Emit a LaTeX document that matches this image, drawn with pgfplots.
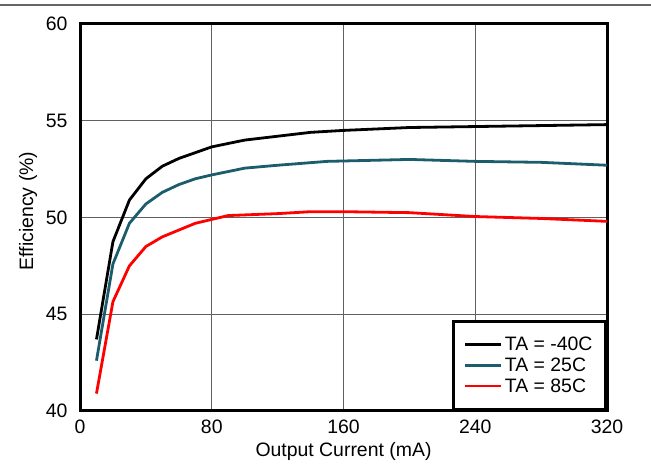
\documentclass[border=0pt]{standalone}
\usepackage{pgfplots}
\pgfplotsset{compat=1.18}
\usepackage{fontspec}
\setmainfont{Liberation Sans}
\definecolor{tealc}{HTML}{1B5D6D}
\begin{document}
\begin{tikzpicture}[x=1bp,y=1bp]
\path[use as bounding box] (0,0) rectangle (651,473);
\draw[gray!80!black, line width=1.2bp] (0,468) -- (651,468);
\begin{axis}[
  at={(80bp,62bp)}, anchor=south west,
  scale only axis, width=527bp, height=387bp,
  xmin=0, xmax=320, ymin=40, ymax=60,
  xtick={0,80,160,240,320}, ytick={40,45,50,55,60},
  grid=major, major grid style={gray!75!black, line width=0.9bp},
  axis line style={black, line width=3bp},
  major tick length=0pt,
  tick label style={font=\fontsize{19.5}{22}\selectfont},
  /pgf/number format/assume math mode=true,
  xticklabel style={anchor=north, yshift=-5.5bp},
  yticklabel style={anchor=east, xshift=-9bp},
  xlabel={Output Current (mA)}, ylabel={Efficiency (\%)},
  label style={font=\fontsize{19.5}{22}\selectfont},
  xlabel style={at={(axis description cs:0.5,0)}, anchor=north, yshift=-28bp},
  ylabel style={at={(axis description cs:-0.0987,0.517)}, anchor=center},
  legend style={at={(1,0)}, anchor=south east, draw=black, line width=3bp,
    font=\fontsize{19.5}{22.5}\selectfont, inner xsep=11bp, inner ysep=14bp,
    row sep=1.5bp, fill=white},
  legend cell align=left,
  legend image code/.code={\draw[#1, line width=2.8bp] (0bp,0bp) -- (36bp,0bp);},
]
\addplot[black, line width=2.8bp] coordinates {
(10,43.7) (20,48.75) (30,50.9) (40,52.0) (50,52.65) (60,53.05) (70,53.35) (80,53.65) (100,54.0) (120,54.2) (140,54.4) (160,54.5) (200,54.65) (240,54.7) (280,54.75) (320,54.8)};
\addlegendentry{TA = -40C}
\addplot[tealc, line width=2.8bp] coordinates {
(10,42.6) (20,47.6) (30,49.7) (40,50.7) (50,51.3) (60,51.7) (70,52.0) (80,52.2) (100,52.55) (120,52.7) (150,52.9) (200,53.0) (240,52.9) (280,52.85) (320,52.7)};
\addlegendentry{TA = 25C}
\addplot[red, line width=2.8bp] coordinates {
(10,40.9) (20,45.65) (30,47.5) (40,48.5) (50,49.0) (60,49.35) (70,49.7) (80,49.9) (90,50.1) (120,50.2) (140,50.3) (160,50.3) (200,50.25) (240,50.05) (280,49.95) (320,49.8)};
\addlegendentry{TA = 85C}
\end{axis}
\end{tikzpicture}
\end{document}
